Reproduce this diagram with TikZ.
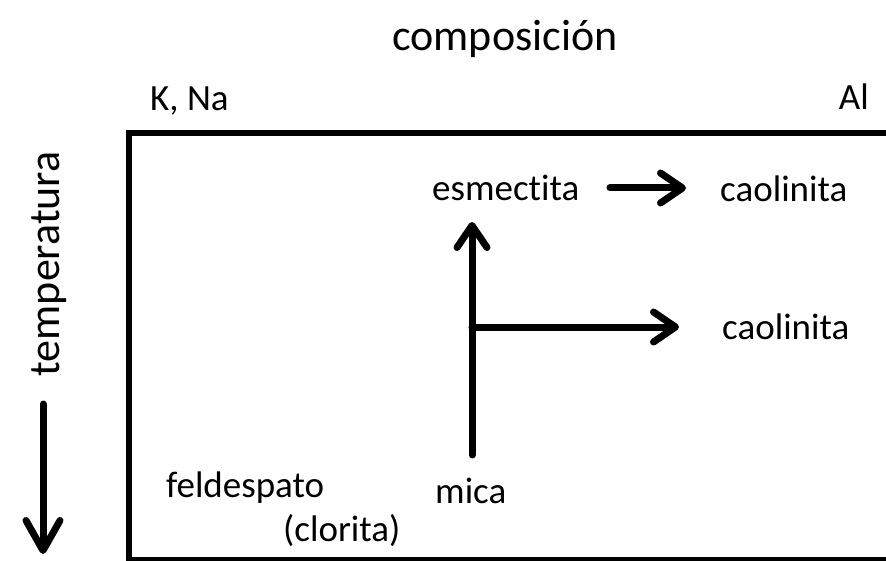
\documentclass[tikz,border=0pt]{standalone}
\usepackage{fontspec}
\setmainfont{Carlito}[Ligatures={NoCommon,NoRare,NoDiscretionary,NoContextual}]
\usetikzlibrary{arrows.meta}
\begin{document}
\begin{tikzpicture}[x=1pt,y=-1pt,
  lbl/.style={font=\fontsize{37}{40}\selectfont, inner sep=0pt},
  ttl/.style={font=\fontsize{44}{48}\selectfont, inner sep=0pt},
  arr/.style={line width=7pt, line cap=round, -{Straight Barb[length=22pt,width=30pt,round]}},
  bigarr/.style={line width=7pt, line cap=round, -{Straight Barb[length=30pt,width=34pt,round]}}]
\useasboundingbox (0,0) rectangle (886,561);
\fill[white] (0,0) rectangle (886,561);
\draw[line width=6pt] (940,133) -- (129,133) -- (129,560) -- (940,560);
\node[ttl, anchor=base] (comp) at (505,51) {composición};
\node[lbl, anchor=base west] (kna) at (150,111) {K, Na};
\node[lbl, anchor=base east] (al) at (869,110) {Al};
\node[ttl, anchor=base, rotate=90] (temp) at (59,264) {temperatura};
\coordinate (t1) at (43,404);
\coordinate (t2) at (43,554);
\draw[bigarr] (t1) -- (t2);
\node[lbl, anchor=base west] (esm) at (432,201) {esmectita};
\node[lbl, anchor=base west] (cao1) at (720,202) {caolinita};
\node[lbl, anchor=base west] (cao2) at (722,339) {caolinita};
\node[lbl, anchor=base west] (feld) at (166,497) {feldespato};
\node[lbl, anchor=base west] (mica) at (435,503) {mica};
\node[lbl, anchor=base west] (clor) at (283,541) {(clorita)};
\coordinate (v1) at (472,455);
\coordinate (v2) at (472,222);
\coordinate (h1) at (472,327);
\coordinate (h2) at (679,327);
\coordinate (e1) at (610,188);
\coordinate (e2) at (686,188);
\draw[arr] (v1) -- (v2);
\draw[arr] (h1) -- (h2);
\draw[arr] (e1) -- (e2);
\end{tikzpicture}
\end{document}
